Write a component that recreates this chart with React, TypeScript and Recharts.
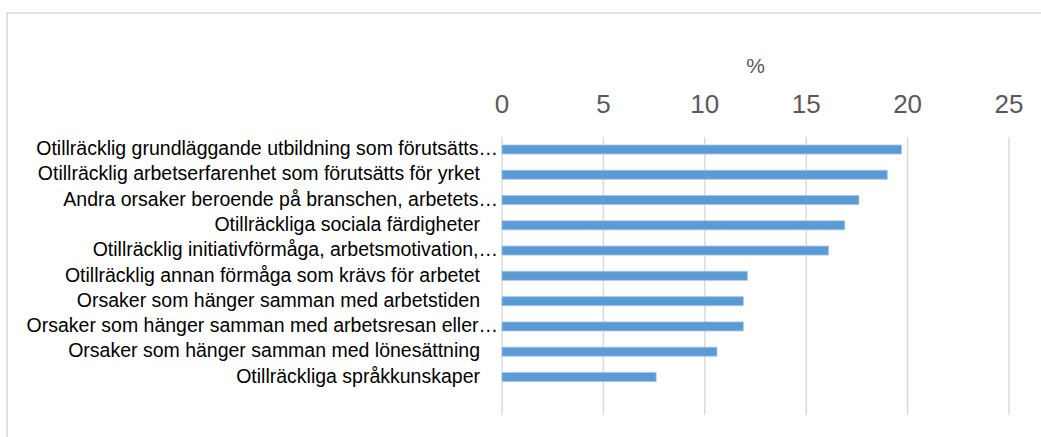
import React from "react";
import { BarChart, Bar, XAxis, YAxis, CartesianGrid, Label } from "recharts";

// reasons, top to bottom (last slot left empty as in the original)
const categories = [
  "Otillräcklig grundläggande utbildning som förutsätts…",
  "Otillräcklig arbetserfarenhet som förutsätts för yrket",
  "Andra orsaker beroende på branschen, arbetets…",
  "Otillräckliga sociala färdigheter",
  "Otillräcklig initiativförmåga, arbetsmotivation,…",
  "Otillräcklig annan förmåga som krävs för arbetet",
  "Orsaker som hänger samman med arbetstiden",
  "Orsaker som hänger samman med arbetsresan eller…",
  "Orsaker som hänger samman med lönesättning",
  "Otillräckliga språkkunskaper",
  "",
];
const percent = [19.7, 19.0, 17.6, 16.9, 16.1, 12.1, 11.9, 11.9, 10.6, 7.6, null];
const xTicks = [0, 5, 10, 15, 20, 25];

const data = categories.map((name, i) => ({ name, value: percent[i] }));

const FONT = "'Liberation Sans', Arial, sans-serif";

const CategoryTick = ({ y, payload }: any) => {
  const label: string = payload.value;
  if (!label) return null;
  // Excel pushes the truncated labels a bit further right
  const tx = label.endsWith("…") ? 498 : 480;
  return (
    <text x={tx} y={y} dy={5.5} textAnchor="end" fontSize={19.5} fill="#000" fontFamily={FONT}>
      {label}
    </text>
  );
};

export default function App() {
  return (
    <div
      style={{
        position: "absolute",
        left: 0,
        top: 0,
        width: 1041,
        height: 437,
        overflow: "hidden",
        background: "#fff",
      }}
    >
      <div
        style={{
          position: "absolute",
          left: 6,
          top: 12,
          width: 1100,
          height: 500,
          border: "2px solid #e2e2e2",
        }}
      />
      <div style={{ position: "absolute", left: 0, top: 0 }}>
        <BarChart
          width={1041}
          height={437}
          data={data}
          layout="vertical"
          margin={{ top: 97, right: 32, bottom: 22, left: 0 }}
          barCategoryGap={0}
        >
          <CartesianGrid horizontal={false} stroke="#d9d9d9" strokeWidth={1.4} />
          <XAxis
            type="number"
            orientation="top"
            domain={[0, 25]}
            ticks={xTicks}
            height={40}
            axisLine={false}
            tickLine={false}
            tickMargin={18}
            tick={{ fill: "#595959", fontSize: 26, fontFamily: FONT }}
          >
            <Label
              value="%"
              position="top"
              offset={24}
              fill="#595959"
              fontSize={21}
              fontFamily={FONT}
            />
          </XAxis>
          <YAxis
            type="category"
            dataKey="name"
            width={502}
            axisLine={false}
            tickLine={false}
            interval={0}
            tick={<CategoryTick />}
          />
          <Bar
            dataKey="value"
            fill="#5b9bd5"
            stroke="#a3c4e8"
            strokeWidth={0.8}
            barSize={9}
            isAnimationActive={false}
          />
        </BarChart>
      </div>
    </div>
  );
}
